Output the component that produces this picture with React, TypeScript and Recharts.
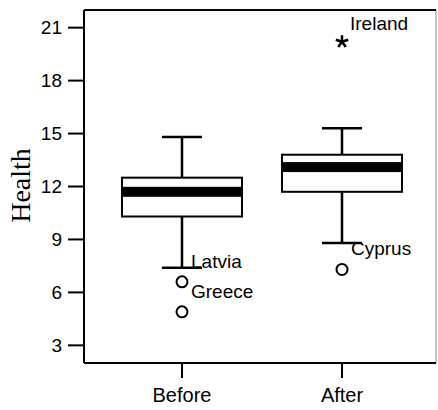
import { Bar, CartesianGrid, ComposedChart, ReferenceLine, Scatter, XAxis, YAxis } from "recharts";

const categories = ["Before", "After"];
const lowerWhisker = [7.4, 8.8];
const lowerQuartile = [10.3, 11.7];
const medians = [11.7, 13.1];
const upperQuartile = [12.5, 13.8];
const upperWhisker = [14.8, 15.3];

// points outside the whiskers, labelled by country
const outlierGroup = ["Before", "Before", "After"];
const outlierValue = [6.6, 4.9, 7.3];
const outlierName = ["Latvia", "Greece", "Cyprus"];

const extremeGroup = ["After"];
const extremeValue = [20.2];
const extremeName = ["Ireland"];

const yTicks = [3, 6, 9, 12, 15, 18, 21];
const yDomain = [2, 22];

const SANS = "'Liberation Sans', Arial, sans-serif";
const SERIF = "'Liberation Serif', 'Times New Roman', serif";
const BOX_W = 120;
const CAP_HALF = 20;

// stacked pieces: invisible base up to the low whisker, stem, box, stem
const rows = categories.map((group, i) => ({
  group,
  base: lowerWhisker[i],
  lowStem: lowerQuartile[i] - lowerWhisker[i],
  box: upperQuartile[i] - lowerQuartile[i],
  highStem: upperWhisker[i] - upperQuartile[i],
  median: medians[i],
}));

const outliers = outlierValue.map((value, i) => ({
  group: outlierGroup[i],
  value,
  name: outlierName[i],
}));

const extremes = extremeValue.map((value, i) => ({
  group: extremeGroup[i],
  value,
  name: extremeName[i],
}));

const LowStem = (p: any) => {
  const cx = p.x + p.width / 2;
  const bottom = p.y + p.height;
  return (
    <g stroke="#000" strokeWidth={2.5}>
      <line x1={cx} x2={cx} y1={p.y} y2={bottom} />
      <line x1={cx - CAP_HALF} x2={cx + CAP_HALF} y1={bottom} y2={bottom} />
    </g>
  );
};

const HighStem = (p: any) => {
  const cx = p.x + p.width / 2;
  return (
    <g stroke="#000" strokeWidth={2.5}>
      <line x1={cx} x2={cx} y1={p.y} y2={p.y + p.height} />
      <line x1={cx - CAP_HALF} x2={cx + CAP_HALF} y1={p.y} y2={p.y} />
    </g>
  );
};

const BoxRect = (p: any) => (
  <rect x={p.x} y={p.y} width={p.width} height={p.height} fill="#fff" stroke="#000" strokeWidth={2} />
);

const MedianBand = (p: any) => (
  <rect x={p.cx - BOX_W / 2} y={p.cy - 5} width={BOX_W} height={10} fill="#000" />
);

const Outlier = (p: any) => (
  <g>
    <circle cx={p.cx} cy={p.cy} r={5.5} fill="#fff" stroke="#000" strokeWidth={2} />
    <text x={p.cx + 9} y={p.cy - 14} fontSize={19} fontFamily={SANS} fill="#000">
      {p.payload.name}
    </text>
  </g>
);

const Extreme = (p: any) => {
  const arms = [0, 1, 2, 3, 4].map((k) => {
    const a = (-90 + k * 72) * (Math.PI / 180);
    return `M${p.cx},${p.cy}L${p.cx + 6.5 * Math.cos(a)},${p.cy + 6.5 * Math.sin(a)}`;
  });
  return (
    <g>
      <path d={arms.join("")} stroke="#000" strokeWidth={2.5} fill="none" />
      <text x={p.cx + 8} y={p.cy - 12} fontSize={19} fontFamily={SANS} fill="#000">
        {p.payload.name}
      </text>
    </g>
  );
};

const HealthLabel = (p: any) => {
  const vb = p.viewBox;
  const x = vb.x + 20;
  const y = vb.y + vb.height / 2 - 1;
  return (
    <text
      x={x}
      y={y}
      transform={`rotate(-90, ${x}, ${y})`}
      textAnchor="middle"
      dominantBaseline="central"
      fontSize={28}
      fontFamily={SERIF}
      fill="#000"
    >
      Health
    </text>
  );
};

// only the right edge of the plot frame comes from the grid
const rightEdge = ({ offset }: any) => [offset.left + offset.width];

export default function App() {
  return (
    <div style={{ position: "absolute", left: 0, top: 0, background: "#fff" }}>
      <ComposedChart
        width={438}
        height={410}
        data={rows}
        margin={{ top: 10, right: 2, bottom: 0, left: 0 }}
      >
        <CartesianGrid
          horizontal={false}
          verticalCoordinatesGenerator={rightEdge}
          stroke="#888"
          strokeWidth={1}
        />
        <ReferenceLine y={yDomain[1]} stroke="#000" strokeWidth={2} />
        <XAxis
          dataKey="group"
          allowDuplicatedCategory={false}
          padding={{ left: 18, right: 14 }}
          height={47}
          tickSize={15}
          tickMargin={10}
          axisLine={{ stroke: "#000", strokeWidth: 2 }}
          tickLine={{ stroke: "#000", strokeWidth: 2 }}
          tick={{ fill: "#000", fontSize: 20, fontFamily: SANS }}
        />
        <YAxis
          type="number"
          domain={yDomain}
          allowDataOverflow
          ticks={yTicks}
          interval={0}
          width={84}
          tickSize={16}
          tickMargin={6}
          axisLine={{ stroke: "#000", strokeWidth: 2 }}
          tickLine={{ stroke: "#000", strokeWidth: 2 }}
          tick={{ fill: "#000", fontSize: 19, fontFamily: SANS }}
          label={{ content: HealthLabel }}
        />
        <Bar dataKey="base" stackId="b" barSize={BOX_W} fill="none" isAnimationActive={false} />
        <Bar dataKey="lowStem" stackId="b" barSize={BOX_W} shape={LowStem} isAnimationActive={false} />
        <Bar dataKey="box" stackId="b" barSize={BOX_W} shape={BoxRect} isAnimationActive={false} />
        <Bar dataKey="highStem" stackId="b" barSize={BOX_W} shape={HighStem} isAnimationActive={false} />
        <Scatter dataKey="median" shape={MedianBand} isAnimationActive={false} />
        <Scatter data={outliers} dataKey="value" shape={Outlier} isAnimationActive={false} />
        <Scatter data={extremes} dataKey="value" shape={Extreme} isAnimationActive={false} />
      </ComposedChart>
    </div>
  );
}
